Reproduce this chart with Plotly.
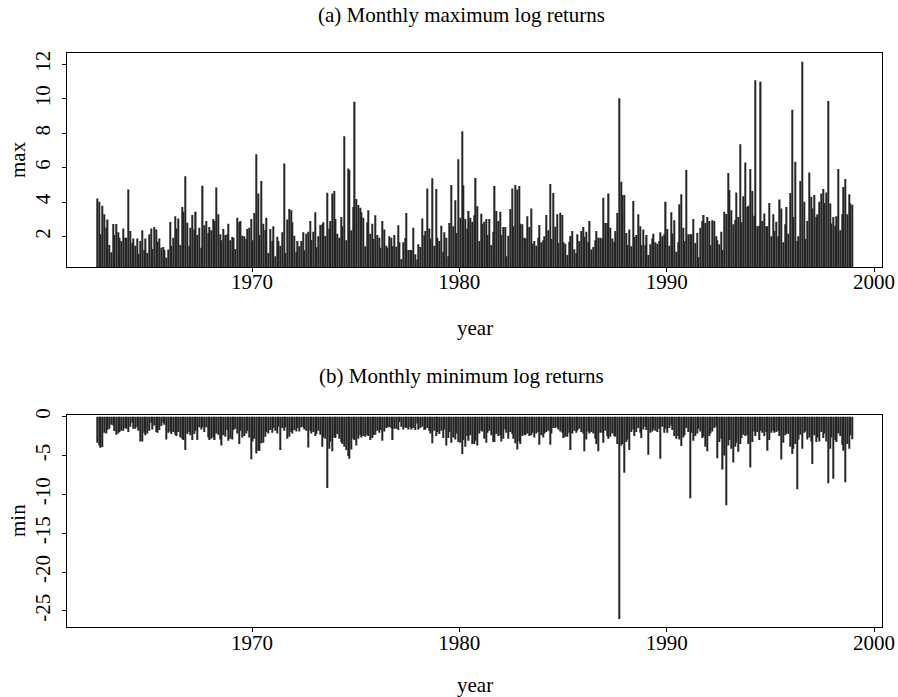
"""
Monthly maximum / minimum log returns (Jul 1962 - Dec 1998), two stacked
spike-style bar panels in an S-Plus look.
"""
import plotly.graph_objects as go

# region Data
START_YEAR = 1962
START_MONTH = 7   # first observation: July 1962

# (a) monthly maximum log returns, in percent, one value per month
MAX_RET = [
    4.22, 4.03, 2.14, 3.80, 3.30, 2.52, 2.99, 1.52, 1.09, 2.74,
    2.10, 2.74, 2.25, 1.94, 1.75, 2.48, 1.94, 1.94, 4.73, 2.33,
    1.65, 1.90, 1.48, 1.90, 1.01, 1.75, 2.37, 1.23, 1.90, 1.05,
    2.14, 2.48, 1.28, 2.56, 2.41, 1.71, 1.90, 1.36, 1.40, 1.23,
    0.78, 1.25, 2.85, 1.46, 1.94, 3.18, 2.48, 3.06, 1.52, 3.72,
    3.45, 5.50, 2.81, 1.48, 2.52, 3.26, 2.41, 3.45, 2.10, 2.52,
    1.36, 4.96, 2.66, 2.91, 2.21, 2.56, 2.37, 3.03, 2.91, 4.86,
    3.30, 2.14, 1.79, 2.45, 2.10, 2.14, 2.75, 1.79, 1.98, 1.94,
    1.28, 3.10, 2.83, 2.91, 2.06, 2.02, 1.86, 2.45, 2.52, 3.03,
    1.79, 3.37, 6.78, 4.50, 2.10, 5.23, 2.75, 2.39, 3.10, 1.05,
    2.45, 1.75, 2.60, 0.86, 2.00, 1.75, 1.48, 2.25, 6.24, 1.05,
    2.99, 3.61, 3.53, 2.83, 2.06, 1.13, 1.75, 1.44, 1.75, 2.25,
    1.21, 2.17, 2.29, 2.91, 1.81, 2.29, 3.41, 1.38, 2.02, 2.68,
    2.72, 2.83, 2.04, 4.55, 2.48, 2.91, 4.50, 4.65, 3.03, 2.17,
    1.94, 3.14, 2.60, 7.82, 1.79, 5.95, 5.87, 2.37, 3.72, 9.83,
    4.19, 3.84, 3.68, 3.41, 3.10, 1.44, 2.83, 3.53, 2.17, 2.75,
    1.86, 3.24, 2.10, 1.94, 1.36, 2.91, 2.41, 1.48, 1.36, 2.02,
    1.94, 1.44, 2.10, 1.42, 2.66, 1.67, 0.70, 1.67, 1.92, 3.37,
    1.23, 1.23, 1.23, 2.52, 0.98, 0.67, 1.56, 1.40, 3.06, 2.08,
    2.33, 4.80, 2.48, 1.90, 5.39, 1.48, 4.77, 1.94, 1.75, 2.64,
    1.13, 2.25, 1.94, 0.86, 2.79, 5.00, 2.60, 4.11, 2.21, 6.49,
    3.10, 8.11, 4.98, 3.03, 2.48, 3.49, 3.10, 2.87, 3.24, 5.40,
    3.76, 1.75, 3.33, 2.75, 2.87, 3.03, 2.10, 3.03, 1.52, 2.29,
    4.94, 3.49, 2.91, 3.45, 2.10, 2.56, 2.56, 0.86, 2.06, 3.61,
    4.80, 2.60, 5.00, 4.73, 4.94, 2.75, 2.72, 1.94, 1.90, 3.18,
    2.56, 3.64, 1.61, 1.75, 1.48, 1.94, 2.68, 1.67, 1.79, 2.02,
    3.26, 2.37, 5.06, 1.86, 4.53, 2.58, 3.30, 1.63, 3.39, 3.26,
    1.67, 1.59, 0.94, 1.71, 2.04, 2.33, 1.27, 1.05, 2.14, 1.75,
    2.33, 2.56, 2.00, 2.29, 1.71, 2.91, 1.25, 1.40, 1.79, 2.33,
    1.94, 1.94, 1.90, 4.26, 2.79, 2.79, 4.51, 2.52, 1.90, 1.71,
    2.33, 3.37, 10.03, 5.19, 4.42, 4.42, 2.21, 1.52, 2.41, 1.44,
    4.07, 1.98, 2.10, 3.30, 2.60, 1.52, 2.41, 1.52, 2.10, 0.94,
    1.56, 1.90, 2.17, 1.67, 1.59, 1.75, 2.25, 2.02, 2.14, 4.03,
    2.45, 1.48, 3.41, 2.19, 2.95, 1.13, 1.67, 3.88, 4.46, 2.52,
    1.75, 5.87, 2.14, 2.14, 2.14, 3.03, 1.63, 2.21, 0.82, 2.52,
    2.91, 3.26, 2.79, 3.14, 2.91, 1.52, 2.95, 2.91, 2.02, 1.79,
    1.56, 2.29, 1.23, 3.45, 3.32, 5.69, 4.71, 3.53, 2.72, 2.97,
    4.57, 3.14, 7.36, 2.83, 4.34, 6.31, 3.72, 3.80, 5.93, 4.65,
    3.22, 11.07, 2.60, 2.64, 10.99, 2.91, 3.35, 2.60, 2.60, 3.95,
    2.02, 3.30, 2.33, 2.87, 2.02, 4.15, 3.64, 1.67, 2.72, 3.72,
    2.17, 4.53, 9.37, 3.14, 6.35, 1.75, 2.02, 5.23, 12.15, 4.03,
    1.86, 2.91, 5.73, 4.32, 3.64, 4.42, 3.14, 3.30, 4.03, 4.51,
    4.77, 3.95, 4.57, 9.87, 3.92, 2.77, 3.14, 2.64, 3.18, 5.93,
    2.37, 3.30, 4.88, 5.35, 3.30, 4.46, 3.92, 3.85,
]

# (b) monthly minimum log returns, in percent
MIN_RET = [
    -3.35, -3.69, -3.99, -3.91, -2.06, -2.15, -1.72, -1.55, -1.03, -1.12,
    -1.85, -2.32, -2.15, -1.97, -1.80, -1.80, -1.46, -1.55, -1.97, -1.29,
    -0.77, -1.55, -1.55, -1.33, -1.80, -3.18, -3.18, -2.06, -2.40, -2.15,
    -1.80, -0.77, -1.63, -1.12, -1.97, -2.06, -1.72, -1.20, -0.77, -1.03,
    -2.92, -2.06, -1.89, -2.23, -1.97, -2.32, -2.49, -1.97, -2.66, -2.83,
    -3.00, -4.29, -2.23, -1.97, -2.40, -3.00, -2.23, -1.80, -3.00, -1.37,
    -1.63, -1.37, -1.97, -1.37, -2.66, -3.00, -2.83, -2.66, -3.00, -2.15,
    -2.32, -2.92, -3.69, -2.40, -2.58, -1.72, -3.09, -2.83, -2.92, -1.72,
    -1.55, -2.15, -3.52, -1.80, -2.66, -2.49, -2.15, -1.80, -2.66, -5.49,
    -3.18, -2.83, -4.72, -4.38, -4.38, -3.43, -3.35, -2.58, -1.97, -2.15,
    -1.72, -2.06, -1.46, -1.80, -2.15, -1.29, -4.29, -1.46, -1.80, -1.37,
    -2.83, -2.58, -1.97, -2.15, -1.72, -1.89, -1.46, -1.89, -1.37, -1.37,
    -1.63, -1.80, -3.95, -1.80, -2.15, -1.97, -2.49, -2.23, -1.80, -2.32,
    -3.86, -2.66, -2.83, -9.18, -4.12, -3.18, -4.46, -2.66, -2.75, -2.23,
    -2.83, -3.26, -3.52, -3.86, -4.29, -5.06, -5.41, -4.21, -2.83, -3.00,
    -3.69, -2.83, -2.40, -2.66, -2.49, -2.58, -2.32, -2.49, -3.00, -2.75,
    -2.40, -2.32, -1.80, -2.06, -1.72, -3.09, -1.89, -1.46, -1.37, -1.37,
    -1.46, -3.00, -1.55, -1.55, -1.72, -0.69, -1.29, -1.63, -1.37, -1.46,
    -1.63, -1.37, -1.63, -1.46, -1.72, -0.86, -1.63, -1.46, -1.29, -1.72,
    -1.63, -1.46, -1.80, -2.15, -3.43, -1.80, -2.49, -1.97, -2.23, -1.80,
    -2.75, -1.63, -3.69, -2.75, -1.97, -3.35, -2.66, -2.92, -2.15, -3.26,
    -3.35, -4.81, -3.00, -3.86, -2.49, -3.09, -2.40, -3.52, -3.52, -3.09,
    -3.69, -2.15, -1.80, -1.89, -2.83, -3.35, -2.06, -1.80, -2.40, -3.26,
    -3.26, -2.23, -2.49, -2.40, -3.18, -2.83, -1.63, -2.06, -2.83, -1.97,
    -2.23, -2.83, -3.43, -4.21, -3.18, -3.52, -2.49, -2.32, -2.40, -2.15,
    -2.49, -2.40, -2.06, -2.66, -2.15, -1.97, -3.61, -2.40, -2.66, -2.15,
    -1.97, -1.80, -3.61, -2.15, -1.46, -1.46, -1.37, -1.63, -1.89, -2.06,
    -2.75, -2.58, -2.58, -2.06, -4.29, -2.15, -1.80, -2.06, -1.80, -1.55,
    -1.97, -2.15, -4.46, -2.92, -1.89, -2.15, -1.97, -2.15, -2.83, -3.52,
    -4.46, -2.06, -2.06, -3.35, -1.80, -2.49, -2.83, -2.58, -2.15, -2.49,
    -2.58, -3.52, -26.04, -3.69, -3.52, -7.21, -3.26, -2.92, -4.29, -1.97,
    -1.63, -2.49, -1.97, -1.46, -2.06, -2.75, -1.63, -1.29, -1.72, -4.89,
    -2.06, -1.89, -1.63, -1.80, -1.97, -1.55, -5.41, -1.29, -2.06, -1.55,
    -2.06, -1.46, -1.12, -1.72, -2.49, -2.83, -2.49, -2.92, -3.78, -2.66,
    -2.40, -1.46, -1.97, -10.50, -2.06, -3.09, -2.49, -2.15, -1.55, -1.89,
    -2.75, -2.58, -3.86, -4.46, -2.49, -2.15, -1.89, -1.46, -1.29, -5.35,
    -3.26, -2.83, -6.80, -4.98, -11.40, -3.69, -3.00, -4.12, -5.90, -3.86,
    -3.35, -4.50, -3.52, -2.75, -2.32, -2.49, -2.40, -3.52, -6.55, -3.26,
    -1.89, -2.49, -1.97, -3.00, -1.80, -2.06, -2.49, -1.97, -4.38, -3.00,
    -2.06, -1.80, -2.06, -1.97, -1.80, -2.49, -5.50, -3.35, -2.40, -2.15,
    -2.23, -3.86, -4.81, -4.12, -3.52, -9.33, -2.92, -2.32, -4.12, -2.06,
    -1.89, -2.92, -2.66, -3.18, -6.10, -2.40, -3.26, -2.66, -3.18, -1.97,
    -2.75, -2.15, -3.18, -8.56, -4.12, -2.66, -7.97, -3.00, -3.26, -2.15,
    -2.49, -3.61, -4.38, -8.44, -3.52, -4.12, -2.40, -2.90,
]

X_TICKS = [1970, 1980, 1990, 2000]
MAX_TICKS = [2, 4, 6, 8, 10, 12]
MIN_TICKS = [0, -5, -10, -15, -20, -25]
MIN_TICK_TEXT = ["0", "-5", "-10", "-15", "-20", "-25"]
# endregion

# mid-month decimal year for every observation
years = [START_YEAR + (START_MONTH - 1 + k + 0.5) / 12 for k in range(len(MAX_RET))]

FONT = "Liberation Serif, Times New Roman, serif"
FS = 21
BAR_COLOR = "#262626"
W, H = 898, 697

fig = go.Figure()
fig.add_trace(go.Bar(x=years, y=MAX_RET, xaxis="x", yaxis="y",
                     marker=dict(color=BAR_COLOR, line=dict(width=0)),
                     showlegend=False, hoverinfo="x+y"))
fig.add_trace(go.Bar(x=years, y=MIN_RET, xaxis="x2", yaxis="y2",
                     marker=dict(color=BAR_COLOR, line=dict(width=0)),
                     showlegend=False, hoverinfo="x+y"))

xbox = [67.3 / W, 881.7 / W]
xcommon = dict(
    range=[1961.09, 2000.37], tickvals=X_TICKS, ticks="outside", ticklen=4,
    tickcolor="black", ticklabelstandoff=-8,
    showline=True, linecolor="black", linewidth=1,
    mirror=True, showgrid=False, zeroline=False, automargin=False,
    tickfont=dict(family=FONT, size=FS, color="black"), domain=xbox,
)
ycommon = dict(
    ticks="outside", ticklen=4, tickcolor="black", tickangle=-90,
    ticklabelstandoff=4,
    showline=True, linecolor="black", linewidth=1, mirror=True,
    showgrid=False, zeroline=False, automargin=False,
    tickfont=dict(family=FONT, size=FS, color="black"),
)

fig.update_layout(
    template="none",
    width=W, height=H,
    margin=dict(l=0, r=0, t=0, b=0),
    paper_bgcolor="white", plot_bgcolor="white",
    bargap=0.3,
    xaxis=dict(**xcommon, anchor="y"),
    xaxis2=dict(**xcommon, anchor="y2"),
    yaxis=dict(**ycommon, anchor="x", range=[0.24, 12.64], tickvals=MAX_TICKS,
               domain=[1 - 267 / H, 1 - 53.3 / H]),
    yaxis2=dict(**ycommon, anchor="x2", range=[-27.1, 0.22], tickvals=MIN_TICKS,
                ticktext=MIN_TICK_TEXT,
                domain=[1 - 627.3 / H, 1 - 415 / H]),
)

txt = dict(family=FONT, size=FS, color="black")
notes = [
    ("(a) Monthly maximum log returns", 461.7, 15, 0),
    ("year", 474.5, 328, 0),
    ("(b) Monthly minimum log returns", 461.7, 376, 0),
    ("year", 474.5, 685, 0),
    ("max", 18, 160, -90),
    ("min", 18, 521, -90),
]
for text, px, py, ang in notes:
    fig.add_annotation(x=px / W, y=1 - py / H, xref="paper", yref="paper",
                       text=text, showarrow=False, textangle=ang,
                       xanchor="center", yanchor="middle", font=txt)

# the page body has a default 8px margin; drop it so the figure fills the window
fig.write_html("out.html",
               config={"displayModeBar": False},
               post_script="document.body.style.margin='0';"
                           "document.body.style.overflow='hidden';")
